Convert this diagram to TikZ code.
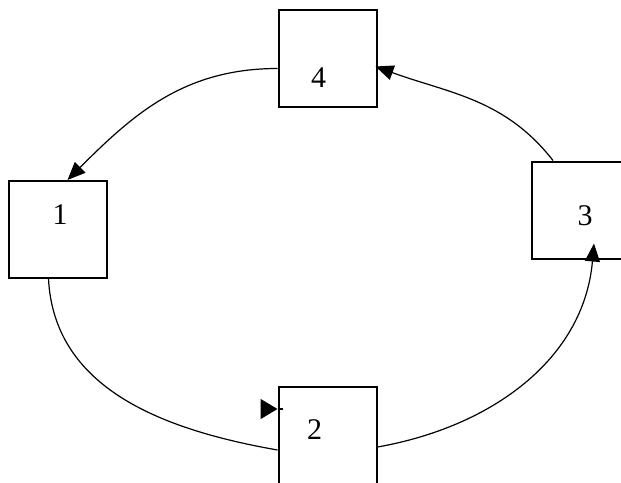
\documentclass[tikz,border=0pt]{standalone}
\usepackage{fontspec}
\setmainfont{Liberation Serif}
\usetikzlibrary{arrows.meta}

\begin{document}
\begin{tikzpicture}[x=0.5pt, y=0.5pt,
		box/.style={draw, line width=1pt, rectangle, minimum width=49pt, minimum height=48.5pt, inner sep=0pt},
		num/.style={font=\fontsize{15}{18}\selectfont, inner sep=0pt},
		flow/.style={line width=0.6pt, -{Triangle[length=9pt, width=7.5pt]}}]
		\useasboundingbox (0,0) rectangle (621,-482);

		% Draw the four boxes
		\node[box] (n4) at (327.5,-58.5) {};
		\node[box] (n1) at (57.5,-229.5) {};
		\node[box] (n3) at (581,-210) {};
		\node[box] (n2) at (327.5,-435) {};

		\node[num] (t4) at (318.5,-78) {4};
		\node[num] (t1) at (60,-215) {1};
		\node[num] (t3) at (585,-216) {3};
		\node[num] (t2) at (314.5,-430) {2};

		% Draw the loop between them
		\draw[flow] ([yshift=-5pt]n4.west) to[out=180, in=45] ([xshift=5pt]n1.north);
		\draw[line width=0.6pt] ([xshift=-4.5pt]n1.south) to[out=-87, in=170] ([yshift=-7.5pt]n2.west);
		\draw[flow] ([yshift=-6pt]n2.east) to[out=10, in=-95] ([xshift=6.5pt, yshift=8pt]n3.south);
		\draw[flow] ([xshift=-14pt]n3.north) to[out=128, in=-20] ([xshift=-1pt, yshift=-4pt]n4.east);

		% Small arrow at box 2
		\coordinate (m2) at (261,-409);
		\draw[line width=0.6pt, -{Triangle[length=8.5pt, width=10pt]}] (m2) -- ([yshift=13pt]n2.west);
		\draw[line width=0.6pt] ([yshift=13pt]n2.west) -- ++(5,0);

	\end{tikzpicture}
\end{document}
